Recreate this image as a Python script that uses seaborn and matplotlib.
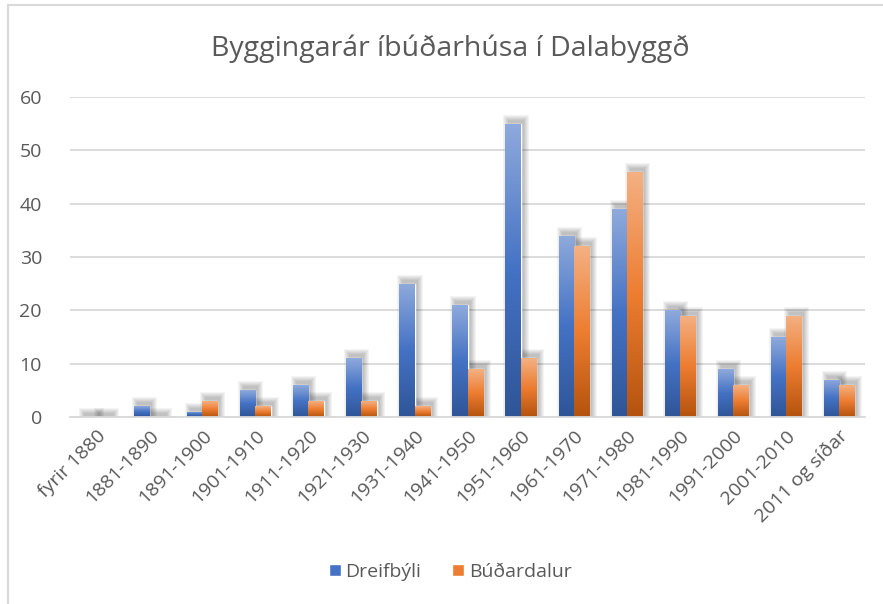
import numpy as np
import pandas as pd
import seaborn as sns
import matplotlib.pyplot as plt
from matplotlib.colors import LinearSegmentedColormap
from matplotlib.patches import Patch, Rectangle
from matplotlib.lines import Line2D

# ============================
# Gögn
# ============================
timabil = ["fyrir 1880", "1881-1890", "1891-1900", "1901-1910", "1911-1920",
           "1921-1930", "1931-1940", "1941-1950", "1951-1960", "1961-1970",
           "1971-1980", "1981-1990", "1991-2000", "2001-2010", "2011 og síðar"]
dreifbyli = [0, 2, 1, 5, 6, 11, 25, 21, 55, 34, 39, 20, 9, 15, 7]
budardalur = [0, 0, 3, 2, 3, 3, 2, 9, 11, 32, 46, 19, 6, 19, 6]
svaedi = ["Dreifbýli", "Búðardalur"]

df = pd.DataFrame({
    "Tímabil": timabil * 2,
    "Fjöldi": dreifbyli + budardalur,
    "Svæði": [svaedi[0]] * len(timabil) + [svaedi[1]] * len(timabil),
})

blue_main = "#4472C4"
orange_main = "#ED7D31"
grad_blue = LinearSegmentedColormap.from_list("b", ["#2F5597", "#4472C4", "#8FAADC"])
grad_orange = LinearSegmentedColormap.from_list("o", ["#B4530E", "#ED7D31", "#F4B183"])
text_col = "#595959"
grid_col = "#D9D9D9"

sns.set_theme(style="white")
plt.rcParams["font.family"] = ["Open Sans", "DejaVu Sans"]

fig = plt.figure(figsize=(8.83, 6.04), dpi=100)
ax = fig.add_axes([0.079, 0.3096, 0.901, 0.5298])

sns.barplot(data=df, x="Tímabil", y="Fjöldi", hue="Svæði",
            palette=[blue_main, orange_main], width=0.57,
            legend=False, ax=ax, zorder=3)

# litaskali og mjúkur skuggi (hliðraður til hægri og upp)
px_x = 1 / 53.0
px_y = 60 / 320.0
grad = np.linspace(0, 1, 256).reshape(-1, 1)
n = len(timabil)
for i, bar in enumerate(ax.patches[:2 * n]):
    x, w, h = bar.get_x(), bar.get_width(), bar.get_height()
    cmap = grad_blue if i < n else grad_orange
    for k in range(1, 7):
        ax.add_patch(Rectangle((x + 4 * px_x - k * px_x, 0),
                               w + 2 * k * px_x - 2 * px_x,
                               h + 3 * px_y + k * px_y,
                               facecolor="black", alpha=0.045,
                               edgecolor="none", zorder=2))
    if h <= 0:
        continue
    im = ax.imshow(grad, extent=[x, x + w, 0, h], origin="lower",
                   aspect="auto", cmap=cmap, zorder=4)
    im.set_clip_path(bar)

ax.set_xlim(-0.5, n - 0.5)
ax.set_ylim(0, 60)
ax.set_yticks(range(0, 61, 10))
ax.yaxis.grid(True, color=grid_col, linewidth=1.3, zorder=0)
ax.set_axisbelow(True)
for s in ["top", "right", "left"]:
    ax.spines[s].set_visible(False)
ax.spines["bottom"].set_color(grid_col)
ax.spines["bottom"].set_linewidth(1.3)
ax.spines["bottom"].set_zorder(5)
ax.set_xlabel("")
ax.set_ylabel("")
ax.tick_params(axis="both", length=0, colors=text_col, labelsize=14)
ax.tick_params(axis="y", pad=20)
ax.tick_params(axis="x", pad=7)
plt.setp(ax.get_xticklabels(), rotation=45, ha="right", rotation_mode="anchor")

fig.text(0.51, 0.92, "Byggingarár íbúðarhúsa í Dalabyggð",
         ha="center", va="center", fontsize=20.5, color=text_col)

handles = [Patch(facecolor=blue_main, label=svaedi[0]),
           Patch(facecolor=orange_main, label=svaedi[1])]
fig.legend(handles=handles, loc="center", bbox_to_anchor=(0.51, 0.053),
           ncol=2, frameon=False, fontsize=14, handlelength=0.6,
           handleheight=0.6, handletextpad=0.25, columnspacing=1.6,
           labelcolor=text_col)

# rammi
fig.add_artist(Line2D([8 / 883, 1], [1 - 5 / 604, 1 - 5 / 604],
                      color=grid_col, linewidth=1.5, transform=fig.transFigure))
fig.add_artist(Line2D([8 / 883, 8 / 883], [0, 1 - 5 / 604],
                      color=grid_col, linewidth=1.5, transform=fig.transFigure))

fig.savefig("out.png", dpi=100, facecolor="white")
